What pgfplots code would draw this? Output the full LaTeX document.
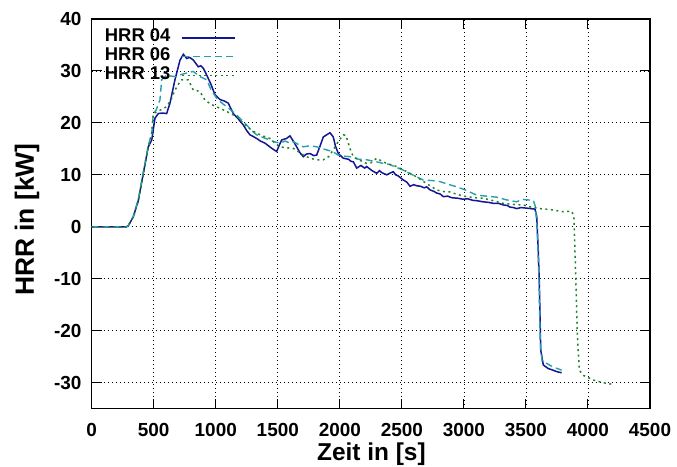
\documentclass[border=0pt]{standalone}
\usepackage{fontspec}
\setmainfont{Liberation Sans}
\usepackage{pgfplots}
\usepackage{pgfplotstable}
\pgfplotsset{compat=1.18}
\definecolor{cA}{RGB}{20,20,150}
\definecolor{cB}{RGB}{40,160,170}
\definecolor{cC}{RGB}{30,130,40}

\pgfplotstableread{
t v
0 0
280 0
295 0.2
335 1.9
376 5.1
416 10.3
456 15.4
484 16.7
510 20.9
537 21.8
570 21.9
604 21.8
631 23.8
671 28.3
712 32.1
739 33.2
766 32.4
790 32.6
819 32.1
859 30.8
880 31.0
900 30.5
927 29.2
960 27.5
994 25.4
1034 24.5
1070 24.2
1101 23.8
1141 21.8
1180 20.8
1222 19.6
1250 18.5
1276 17.7
1300 17.4
1330 17.0
1360 16.5
1397 16.1
1440 15.3
1470 14.8
1491 14.5
1510 15.6
1531 16.7
1570 17.0
1598 17.5
1625 16.5
1652 15.4
1680 14.2
1706 13.5
1730 14.0
1760 14.1
1790 13.7
1813 13.8
1840 15.5
1867 17.3
1900 17.8
1921 18.1
1947 17.3
1965 15.5
1988 14.1
2028 13.2
2070 13.0
2090 12.6
2109 12.5
2136 11.3
2170 11.8
2200 11.3
2216 11.6
2260 10.8
2297 10.3
2320 10.8
2340 10.4
2378 10.0
2410 10.4
2431 10.6
2450 10.0
2470 9.8
2512 9.0
2540 8.6
2566 7.8
2595 8.1
2620 7.9
2650 7.8
2680 7.5
2700 7.7
2727 7.1
2760 6.8
2780 6.5
2810 6.3
2834 5.8
2870 5.9
2900 5.6
2950 5.5
2995 5.3
3030 5.4
3070 5.1
3110 5.0
3156 4.8
3200 4.7
3240 4.5
3280 4.5
3318 4.2
3350 4.1
3370 3.8
3400 3.7
3425 3.5
3460 3.7
3500 3.6
3540 3.5
3573 3.4
3587 2.0
3600 -5
3608 -10.8
3619 -23.7
3640 -26.6
3680 -27.3
3718 -27.6
3750 -27.9
3788 -28.1
}\hrrA

\pgfplotstableread{
t v
0 0
280 0
295 0.2
335 2.0
376 5.3
416 10.5
456 15.6
484 18.0
497 21.8
520 22.5
550 24.4
564 28.3
604 29.2
640 29.0
685 28.9
720 29.3
766 29.6
819 29.9
873 28.9
927 28.3
960 26.5
1008 24.7
1050 23.8
1088 23.1
1130 22.3
1169 21.5
1210 20.5
1249 19.6
1290 18.5
1330 17.7
1380 17.2
1437 16.7
1480 16.3
1518 16.1
1560 16.5
1598 16.1
1625 16.4
1670 15.8
1706 15.4
1760 15.6
1813 15.4
1850 15.1
1894 14.8
1940 14.5
1988 13.8
2030 13.6
2082 13.5
2150 13.0
2216 12.9
2280 12.6
2350 12.2
2400 12.0
2450 11.5
2512 10.9
2560 10.3
2620 9.6
2673 9.0
2740 8.9
2807 8.7
2870 8.2
2942 7.7
3020 7.0
3103 6.1
3180 5.9
3264 5.7
3340 5.2
3425 4.8
3470 5.3
3500 5.2
3559 5.1
3575 4.0
3590 0
3605 -10
3615 -22
3630 -25.8
3667 -26.3
3720 -27.0
3788 -27.6
}\hrrB

\pgfplotstableread{
t v
0 0
280 0
295 0.2
335 1.9
376 5.0
416 10.0
456 15.2
484 18.0
497 21.8
540 22.3
604 23.1
640 24.5
671 26.3
700 27.5
725 28.3
779 28.3
819 26.3
850 26.2
873 26.0
913 24.4
960 23.6
1008 23.1
1088 22.2
1169 21.2
1249 19.3
1290 18.6
1330 18.0
1380 17.5
1437 17.0
1480 16.0
1518 15.4
1570 15.2
1625 15.1
1670 14.4
1706 13.8
1760 13.2
1813 12.9
1867 12.9
1910 13.5
1947 14.8
1990 16.5
2028 17.7
2050 17.6
2068 16.1
2090 14.5
2109 13.5
2160 12.8
2216 12.2
2250 12.3
2297 13.2
2340 12.6
2378 12.2
2420 11.9
2458 11.6
2540 10.6
2620 9.6
2700 8.3
2781 7.1
2830 6.8
2888 6.7
2950 6.2
3022 5.8
3090 5.6
3156 5.5
3240 5.0
3318 4.5
3400 4.3
3479 4.2
3540 3.8
3613 3.5
3700 3.3
3801 2.9
3869 3.0
3887 1.9
3895 -4.5
3903 -10.9
3914 -20.5
3930 -27.6
3962 -28.6
4000 -29.0
4043 -29.5
4120 -30.0
4191 -30.3
}\hrrC

\begin{document}
\begin{tikzpicture}
\begin{axis}[
  scale only axis, width=558.3bp, height=389.6bp,
  xmin=0, xmax=4500, ymin=-35, ymax=40,
  xtick={0,500,...,4500}, ytick={-30,-20,...,40},
  grid=major,
  major grid style={black, line width=0.8bp, dash pattern=on 1bp off 3bp},
  axis line style={black, line width=1.5bp},
  tick align=inside, major tick length=10bp,
  tick style={black, line width=1bp},
  /pgf/number format/assume math mode=true,
  /pgf/number format/1000 sep={},
  tick label style={font=\fontsize{19}{19}\selectfont\bfseries},
  xticklabel style={anchor=north, inner sep=0pt, yshift=-14.5bp},
  yticklabel style={anchor=east, inner sep=0pt, xshift=-10bp},
  xlabel={Zeit in [s]}, ylabel={HRR in [kW]},
  xlabel style={font=\fontsize{24.5}{24.5}\selectfont\bfseries, at={(axis description cs:0.501,-0.132)}, anchor=base},
  ylabel style={font=\fontsize{26.5}{26.5}\selectfont\bfseries, at={(axis description cs:-0.1034,0.485)}, anchor=base, rotate=0},
  legend style={at={(axis description cs:0,1)}, anchor=north west, draw=none, fill=none,
    xshift=13bp, yshift=-9.3bp, font=\fontsize{18.5}{18.5}\selectfont\bfseries,
    row sep=0pt, inner sep=0pt,
    nodes={inner sep=0pt, text height=13.3bp, text depth=5.4bp},
    /tikz/every odd column/.append style={column sep=11bp}},
  legend plot pos=right,
  legend cell align=left,
  legend image code/.code={\draw[#1] (0bp,0bp) -- (53bp,0bp);},
]
\addplot[cA, line width=1.5bp] table[x=t,y=v] {\hrrA};
\addlegendentry{HRR 04}
\addplot[cB, line width=1.4bp, dash pattern=on 7bp off 4bp] table[x=t,y=v] {\hrrB};
\addlegendentry{HRR 06}
\addplot[cC, line width=1.5bp, dash pattern=on 2bp off 3.5bp] table[x=t,y=v] {\hrrC};
\addlegendentry{HRR 13}
\end{axis}
\pgfresetboundingbox
\path[use as bounding box] (-91.7bp,-58.4bp) rectangle (585.3bp,408.6bp);
\end{tikzpicture}
\end{document}
